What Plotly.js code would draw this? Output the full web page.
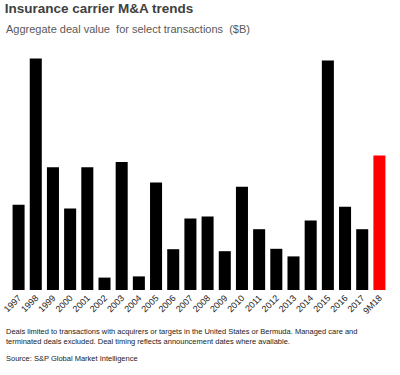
<!DOCTYPE html>
<html>
<head>
<meta charset="utf-8">
<script src="https://cdn.plot.ly/plotly-3.0.1.min.js"></script>
<style>html,body{margin:0;padding:0;background:#fff;}#chart{width:400px;height:375px;}</style>
</head>
<body>
<div id="chart"></div>
<script>
const years = ["1997","1998","1999","2000","2001","2002","2003","2004","2005","2006","2007","2008","2009","2010","2011","2012","2013","2014","2015","2016","2017","9M18"];
const dealValue = [21.3,57.9,30.7,20.4,30.7,3.1,32.0,3.4,26.9,10.2,17.9,18.4,9.7,25.8,15.2,10.3,8.4,17.4,57.4,20.8,15.2,33.6];
const barColors = years.map(y => y === "9M18" ? "#ff0000" : "#000000");

const trace = {
  type: "bar",
  x: years,
  y: dealValue,
  marker: {color: barColors},
  hoverinfo: "x+y"
};

const layout = {
  width: 400, height: 375,
  margin: {l: 10, r: 12, t: 50, b: 85},
  paper_bgcolor: "#fff", plot_bgcolor: "#fff",
  bargap: 0.3,
  showlegend: false,
  font: {family: "Liberation Sans, Arial, sans-serif", color: "#222"},
  title: {
    text: "<b>Insurance carrier M&A trends</b>",
    font: {size: 13.5, color: "#404040", family: "Liberation Sans, Arial, sans-serif"},
    x: 0.012, xanchor: "left", xref: "container",
    y: 0.99, yanchor: "top", yref: "container"
  },
  xaxis: {
    type: "category",
    tickangle: -45,
    automargin: false,
    tickfont: {size: 9, color: "#222"},
    showline: false, showgrid: false, zeroline: false, ticks: ""
  },
  yaxis: {
    range: [0, 60],
    visible: false, showgrid: false, zeroline: false
  },
  annotations: [
    {xref: "paper", yref: "paper", x: -0.015, y: 1.088, xanchor: "left", yanchor: "middle", align: "left", showarrow: false,
     text: "Aggregate deal value  for select transactions  ($B)",
     font: {size: 11, color: "#595959"}},
    {xref: "paper", yref: "paper", x: -0.015, y: -0.145, xanchor: "left", yanchor: "top", align: "left", showarrow: false,
     text: "Deals limited to transactions with acquirers or targets in the United States or Bermuda. Managed care and<br>terminated deals excluded. Deal timing reflects announcement dates where available.",
     font: {size: 7.5, color: "#222"}},
    {xref: "paper", yref: "paper", x: -0.015, y: -0.26, xanchor: "left", yanchor: "top", align: "left", showarrow: false,
     text: "Source: S&P Global Market Intelligence",
     font: {size: 7.5, color: "#222"}}
  ]
};

Plotly.newPlot("chart", [trace], layout, {displayModeBar: false, staticPlot: true});
</script>
</body>
</html>
